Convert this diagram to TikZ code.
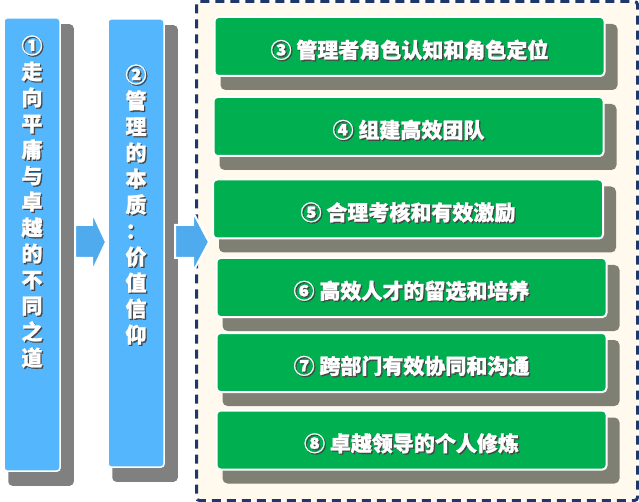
\documentclass[tikz,border=0pt]{standalone}
\usepackage{fontspec}
\newfontfamily\cjk{Noto Sans CJK SC}[BoldFeatures={FakeBold=1.2}]
\usepackage{tikz}
\usetikzlibrary{calc,backgrounds}

\definecolor{colblue}{RGB}{84,183,253}
\definecolor{arrowblue}{RGB}{80,170,238}
\definecolor{topicgreen}{RGB}{0,176,80}
\definecolor{colshade}{RGB}{128,128,128}
\definecolor{boxshade}{RGB}{128,127,116}
\definecolor{framenavy}{RGB}{31,56,107}
\definecolor{cream}{RGB}{255,250,237}
\definecolor{txtshade}{RGB}{70,70,70}

\pgfdeclarelayer{frame}
\pgfdeclarelayer{shade}
\pgfsetlayers{frame,shade,main}

\newcommand{\shtxt}[1]{\makebox[0pt][l]{\kern1.3pt\raisebox{-1.3pt}{\color{txtshade}#1}}#1}
\newcommand{\vcol}[1]{\begin{tabular}{@{}c@{}}#1\end{tabular}}
\newcommand{\lowtxt}[1]{\raisebox{-4pt}[\height][\depth]{\shtxt{#1}}}

\begin{document}
\begin{tikzpicture}[x=1pt,y=-1pt,
    column/.style={draw=white, line width=1.5pt, fill=colblue, rounded corners=3pt,
      minimum width=56pt, inner sep=0pt},
    coltext/.style={text=white, inner sep=0pt,
      font=\cjk\bfseries\fontsize{21pt}{26pt}\selectfont},
    topic/.style={draw=white, line width=2pt, fill=topicgreen, rounded corners=4pt,
      minimum width=390pt, minimum height=59pt, inner sep=0pt, text=white,
      font=\cjk\bfseries\fontsize{21pt}{26pt}\selectfont},
    blockarrow/.style={draw=white, line width=2pt, fill=arrowblue}]
  \useasboundingbox (0,0) rectangle (639,502);

  % dashed frame round the topics
  \begin{pgfonlayer}{frame}
    \draw[framenavy, line width=3pt, dash pattern=on 9pt off 6pt, fill=cream,
      rounded corners=3pt] (196.5,1.5) rectangle (637.5,500.5);
  \end{pgfonlayer}

  % the two columns
  \node[column, minimum height=453pt] (col1) at (32,244.5) {};
  \node[column, minimum height=448pt] (col2) at (136,243) {};
  \node[coltext] (col1txt) at (32,205)
    {\shtxt{\vcol{①\\走\\向\\平\\庸\\与\\卓\\越\\的\\不\\同\\之\\道}}};
  \node[coltext] (col2txt) at (136,208)
    {\shtxt{\vcol{②\\管\\理\\的\\本\\质\\：\\价\\值\\信\\仰}}};

  % topics
  \node[topic] (box3) at (409.5,46.5) {\lowtxt{③ 管理者角色认知和角色定位}};
  \node[topic] (box4) at (408.5,126.5) {\lowtxt{④ 组建高效团队}};
  \node[topic] (box5) at (408,209) {\lowtxt{⑤ 合理考核和有效激励}};
  \node[topic] (box6) at (411.5,287.5) {\lowtxt{⑥ 高效人才的留选和培养}};
  \node[topic] (box7) at (411.5,362.5) {\lowtxt{⑦ 跨部门有效协同和沟通}};
  \node[topic] (box8) at (411.5,440) {\lowtxt{⑧ 卓越领导的个人修炼}};

  % shadows
  \begin{pgfonlayer}{shade}
    \foreach \n in {col1,col2}
      \fill[colshade, rounded corners=4pt] ($(\n.north west)+(5,7)$) rectangle ($(\n.south east)+(13,14)$);
    \foreach \n in {box3,box4,box5,box6,box7,box8}
      \fill[boxshade, rounded corners=5pt] ($(\n.north west)+(7,8)$) rectangle ($(\n.south east)+(12,13)$);
  \end{pgfonlayer}

  % arrows
  \draw[blockarrow] (75,225) -- (92,225) -- (92,212) -- (106,242) -- (92,272) -- (92,258) -- (75,258) -- cycle;
  \draw[blockarrow] (175,225) -- (193,225) -- (193,212) -- (209,242) -- (193,272) -- (193,258) -- (175,258) -- cycle;
\end{tikzpicture}
\end{document}
